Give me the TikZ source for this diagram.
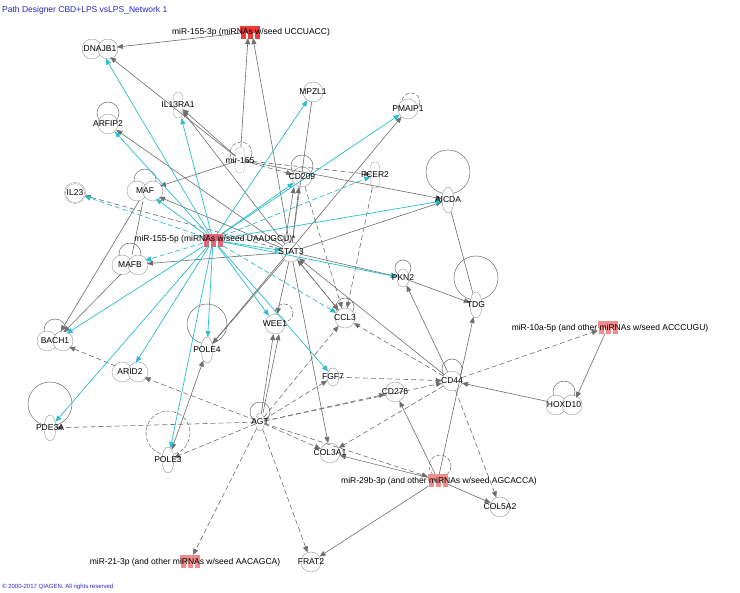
\documentclass[tikz,border=0pt]{standalone}
\usepackage{fontspec}
\setmainfont{Liberation Sans}
\usetikzlibrary{arrows.meta,shapes.geometric,calc}
\definecolor{eg}{RGB}{110,110,110}
\definecolor{ec}{RGB}{40,190,205}
\definecolor{mr}{RGB}{235,60,60}
\definecolor{mp}{RGB}{240,140,140}
\definecolor{tb}{RGB}{40,40,200}
\begin{document}
\begin{tikzpicture}[x=1pt,y=-1pt,
  gene/.style={circle,draw=eg!70,line width=0.4pt,minimum size=20pt,inner sep=0pt,fill=white},
  cplx/.style={ellipse,minimum width=34pt,minimum height=20pt,inner sep=0pt},
  enz/.style={ellipse,draw=eg!70,line width=0.4pt,minimum width=12pt,minimum height=26pt,inner sep=0pt,fill=white},
  rec/.style={rectangle,rounded corners=4pt,draw=eg!70,line width=0.4pt,minimum width=9pt,minimum height=26pt,inner sep=0pt,fill=white},
  mir/.style={rectangle,minimum width=20pt,minimum height=12pt,inner sep=0pt},
  txt/.style={font=\fontsize{8.5}{9}\selectfont,inner sep=0pt},
  loop/.style={draw=eg,line width=0.5pt},
  g/.style={draw=eg,line width=0.6pt,-{Triangle[length=6pt,width=5pt]}},
  gd/.style={g,dash pattern=on 5pt off 3pt},
  gl/.style={draw=eg,line width=0.6pt},
  c/.style={draw=ec,line width=0.7pt,-{Triangle[length=6pt,width=5pt]}},
  cd/.style={c,dash pattern=on 5pt off 3pt}]
\useasboundingbox (0,0) rectangle (740,593);
\fill[white] (0,0) rectangle (740,593);
\node[txt,anchor=west,text=tb,font=\fontsize{8.5}{9}\selectfont] (title) at (2,10) {Path Designer CBD+LPS vsLPS\_Network 1};
\node[txt,anchor=west,text=tb,font=\fontsize{6}{6}\selectfont] (copy) at (2,587) {\textcopyright{} 2000-2017 QIAGEN. All rights reserved.};
% self loops
\foreach \x/\y/\r/\s in {108/113/11/solid,145/180/11/solid,130/254/11/solid,302/166/11/solid,403/268/8/solid,448/172/22/solid,476/278/22/solid,207/324/20/solid,55/330/11/solid,50/404/22/solid,260/412/10/solid,345/307/9/solid,452/369/10/solid,564/392/11/solid}
 \draw[loop] (\x,\y) circle (\r);
\foreach \x/\y/\r in {241/153/11,168/433/22,284/313/9,411/102/9,440/466/11}
 \draw[loop,dash pattern=on 4pt off 2pt] (\x,\y) circle (\r);
% nodes
\node[gene] (dnajb1a) at (92,49) {};\node[gene] (dnajb1b) at (108,49) {};\node[cplx] (dnajb1) at (100,49) {};
\node[rec] (il13ra1) at (178,105) {};
\node[gene] (arfip2) at (108,124) {};
\node[gene] (mpzl1) at (313,92) {};
\node[gene] (pmaip1) at (408,109) {};
\node[rec,draw=eg!50] (mir155) at (240,160) {};
\node[gene] (cd209) at (302,177) {};
\node[rec] (fcer2) at (375,175) {};
\node[enz] (aicda) at (448,200) {};
\node[gene,double] (il23) at (75,193) {};
\node[gene] (mafa) at (137,191) {};\node[gene] (mafb2) at (153,191) {};\node[cplx] (maf) at (145,191) {};
\node[gene] (stat3) at (291,252) {};
\node[gene] (mafba) at (122,265) {};\node[gene] (mafbb) at (138,265) {};\node[cplx] (mafb) at (130,265) {};
\node[enz,minimum height=18pt] (pkn2) at (403,278) {};
\node[enz] (tdg) at (476,305) {};
\node[gene] (ccl3) at (345,318) {};
\node[gene] (wee1) at (275,324) {};
\node[enz] (pole4) at (207,350) {};
\node[gene] (bach1a) at (47,341) {};\node[gene] (bach1b) at (63,341) {};\node[cplx] (bach1) at (55,341) {};
\node[gene] (arid2a) at (122,372) {};\node[gene] (arid2b) at (138,372) {};\node[cplx] (arid2) at (130,372) {};
\node[enz,minimum height=18pt] (fgf7) at (333,377) {};
\node[gene] (cd44) at (452,381) {};
\node[gene] (cd276) at (395,392) {};
\node[gene] (hoxd10a) at (556,405) {};\node[gene] (hoxd10b) at (572,405) {};\node[cplx] (hoxd10) at (564,405) {};
\node[enz] (pde3a) at (50,428) {};
\node[enz,minimum width=9pt,minimum height=18pt] (agt) at (260,422) {};
\node[enz] (pole3) at (168,460) {};
\node[gene] (col3a1) at (330,453) {};
\node[gene] (col5a2) at (500,507) {};
\node[gene] (frat2) at (311,562) {};
% miRNAs
\newcommand\mirna[4]{\node[mir] (#1) at (#2,#3) {};
 \fill[#4] ($(#1)+(-10,-6)$) rectangle ($(#1)+(10,1)$);
 \foreach \dx in {-7,0,7}{\fill[#4] ($(#1)+(\dx-2.5,1)$) rectangle ($(#1)+(\dx+2.5,7)$);}}
\mirna{m3p}{250}{32}{mr}
\mirna{m5p}{213}{240}{mr!85!blue!40!mp}
\mirna{m10}{608}{327}{mp}
\mirna{m29}{438}{480}{mp}
\mirna{m21}{190}{561}{mp}
% edges gray
\draw[g] (m3p) -- (dnajb1);
\draw[g] (mir155) -- ([xshift=-2pt]m3p.south);
\draw[g] (stat3) -- ([xshift=3pt]m3p.south);
\draw[g] (mir155) -- (dnajb1);
\draw[g] (mir155) -- (il13ra1);
\draw[g] (stat3) -- (il13ra1);
\draw[g] (stat3) -- (arfip2);
\draw[g] (mir155) -- (maf);
\draw[g] (stat3) -- (maf);
\draw[g] (stat3) -- (mafb);
\draw[gl] (mpzl1) -- (stat3);
\draw[g] (pole4) -- (pmaip1);
\draw[gd] (mir155) -- (fcer2);
\draw[gd] (mir155) -- (cd209);
\draw[g] (mir155) -- (aicda);
\draw[g] (stat3) -- ([xshift=-3pt]cd209.south);
\draw[g] ([xshift=-6pt]stat3.north) -- ([xshift=-8pt]cd209.south);
\draw[g] (stat3) -- (aicda);
\draw[g] (stat3) -- (pkn2);
\draw[g] (pkn2) -- (tdg);
\draw[gl] (aicda) -- (tdg);
\draw[gd] (cd209) -- (ccl3);
\draw[gd] (fcer2) -- (ccl3);
\draw[gd,{Triangle[length=6pt,width=5pt]}-{Triangle[length=6pt,width=5pt]}] (stat3) -- (ccl3);
\draw[g] (cd44) -- (stat3);
\draw[gd] (cd44) -- (ccl3);
\draw[g] (cd44) -- (pkn2);
\draw[g] (m29) -- (tdg);
\draw[g] (hoxd10) -- (cd44);
\draw[g] (m10) -- (hoxd10.north east);
\draw[gd] (cd44) -- (m10);
\draw[gd] (cd44) -- (col5a2);
\draw[g] (m29) -- (col5a2);
\draw[g] (m29) -- (cd276);
\draw[g] (m29) -- (frat2);
\draw[g] (m29) -- (col3a1);
\draw[g] (stat3) -- (wee1);
\draw[g] (stat3) -- (col3a1);
\draw[g] (stat3) -- (pole4);
\draw[g] (agt) -- (wee1);
\draw[g] ([xshift=3pt]agt.north) -- ([xshift=4pt]wee1.south);
\draw[gd] (agt) -- (ccl3);
\draw[gd] (agt) -- (fgf7);
\draw[gd] (agt) -- (cd44);
\draw[gd] (agt) -- (col3a1);
\draw[gd] (agt) -- (m29);
\draw[gd] (agt) -- (arid2);
\draw[gd] (agt) -- (pde3a);
\draw[gd] (agt) -- (pole3);
\draw[gd] (agt) -- (m21);
\draw[gd] (agt) -- (frat2);
\draw[gd] (agt) -- (cd276);
\draw[gd] (fgf7) -- (cd44);
\draw[gd] (cd44) -- (col3a1);
\draw[gd] (arid2) -- (bach1);
\draw[g,{Triangle[length=6pt,width=5pt]}-{Triangle[length=6pt,width=5pt]}] (pole3) -- (pole4);
\draw[g] (maf) -- (bach1);
\draw[g] (mafb) -- (bach1);
\draw[gl] (maf) -- (mafb);
\draw[gd] (stat3) -- (il23);
\draw[g] (stat3) -- (ccl3);
% cyan edges
\foreach \t in {dnajb1,il13ra1,arfip2,mpzl1,pmaip1,cd209,maf,aicda,stat3,pkn2,wee1,fgf7,pole4,bach1,arid2,pde3a,pole3}
  \draw[c] (m5p) -- (\t);
\foreach \t in {il23,mafb,fcer2,ccl3}
  \draw[cd] (m5p) -- (\t);
% labels
\foreach \n/\l in {dnajb1/DNAJB1,il13ra1/IL13RA1,arfip2/ARFIP2,mpzl1/MPZL1,pmaip1/PMAIP1,mir155/mir-155,cd209/CD209,fcer2/FCER2,aicda/AICDA,il23/IL23,maf/MAF,stat3/STAT3,mafb/MAFB,pkn2/PKN2,tdg/TDG,ccl3/CCL3,wee1/WEE1,pole4/POLE4,bach1/BACH1,arid2/ARID2,fgf7/FGF7,cd44/CD44,cd276/CD276,hoxd10/HOXD10,pde3a/PDE3A,agt/AGT,pole3/POLE3,col3a1/COL3A1,col5a2/COL5A2,frat2/FRAT2}
  \node[txt] at (\n) {\l};
\node[txt] at (251,32) {miR-155-3p (miRNAs w/seed UCCUACC)};
\node[txt] at (215,239) {miR-155-5p (miRNAs w/seed UAAUGCU)*};
\node[txt] at (610,328) {miR-10a-5p (and other miRNAs w/seed ACCCUGU)};
\node[txt] at (439,481) {miR-29b-3p (and other miRNAs w/seed AGCACCA)};
\node[txt] at (185,562) {miR-21-3p (and other miRNAs w/seed AACAGCA)};
\end{tikzpicture}
\end{document}
